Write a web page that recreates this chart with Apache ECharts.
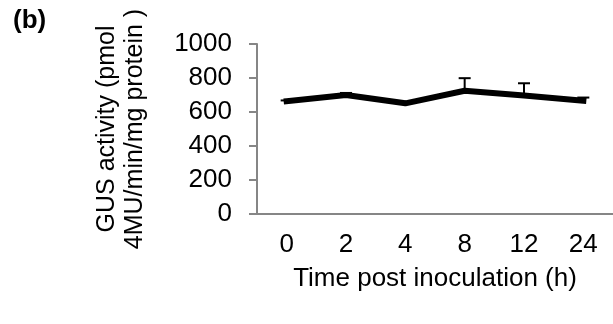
<!DOCTYPE html>
<html>
<head>
<meta charset="utf-8">
<script src="https://cdn.jsdelivr.net/npm/echarts@6/dist/echarts.min.js"></script>
<style>
  html, body { margin: 0; padding: 0; background: #fff; }
  #chart { width: 613px; height: 324px; }
</style>
</head>
<body>
<div id="chart"></div>
<script>
  // values
  const times = ['0', '2', '4', '8', '12', '24'];
  const gus = [664, 700, 651, 725, 697, 666];
  const gusErr = [4, 12, 4, 74, 72, 19];
  const yTicks = [0, 200, 400, 600, 800, 1000];

  const font = 'Liberation Sans, Arial, sans-serif';
  const axisGray = '#868686';

  let chart = echarts.init(document.getElementById('chart'));

  let option = {
    animation: false,
    textStyle: { fontFamily: font },
    graphic: [{
      type: 'text',
      left: 13,
      top: 8,
      style: { text: '(b)', font: 'bold 26px ' + font, fill: '#000' }
    }],
    grid: { left: 257, top: 44, right: -8, bottom: 110 },
    xAxis: {
      type: 'category',
      data: times,
      boundaryGap: true,
      name: 'Time post inoculation (h)',
      nameLocation: 'middle',
      nameGap: 52,
      nameTextStyle: { color: '#000', fontSize: 26, fontFamily: font },
      axisLine: { lineStyle: { color: axisGray, width: 2 } },
      axisTick: { alignWithLabel: false, length: 6, lineStyle: { color: axisGray, width: 2 } },
      axisLabel: { color: '#000', fontSize: 26, margin: 18, fontFamily: font },
      splitLine: { show: false }
    },
    yAxis: {
      type: 'value',
      min: yTicks[0],
      max: yTicks[yTicks.length - 1],
      interval: yTicks[1] - yTicks[0],
      name: 'GUS activity (pmol\n4MU/min/mg protein )',
      nameLocation: 'middle',
      nameRotate: 90,
      nameGap: 108,
      nameTextStyle: { color: '#000', fontSize: 25, lineHeight: 28, fontFamily: font },
      axisLine: { show: true, lineStyle: { color: axisGray, width: 2 } },
      axisTick: { show: true, length: 8, lineStyle: { color: axisGray, width: 2 } },
      axisLabel: { color: '#000', fontSize: 26, margin: 25, fontFamily: font, formatter: v => String(v) },
      splitLine: { show: false }
    },
    series: [
      {
        type: 'line',
        data: gus,
        symbol: 'none',
        lineStyle: { color: '#000', width: 6, cap: 'square' },
        z: 2
      },
      {
        type: 'custom',
        data: gus.map((v, i) => [i, v, gusErr[i]]),
        renderItem: function (params, api) {
          let p0 = api.coord([api.value(0), api.value(1)]);
          let p1 = api.coord([api.value(0), api.value(1) + api.value(2)]);
          let half = 6;
          return {
            type: 'group',
            children: [
              { type: 'line', shape: { x1: p0[0], y1: p0[1], x2: p1[0], y2: p1[1] },
                style: { stroke: '#000', lineWidth: 2 } },
              { type: 'line', shape: { x1: p1[0] - half, y1: p1[1], x2: p1[0] + half, y2: p1[1] },
                style: { stroke: '#000', lineWidth: 2 } }
            ]
          };
        },
        z: 3
      }
    ]
  };
  chart.setOption(option);
</script>
</body>
</html>
